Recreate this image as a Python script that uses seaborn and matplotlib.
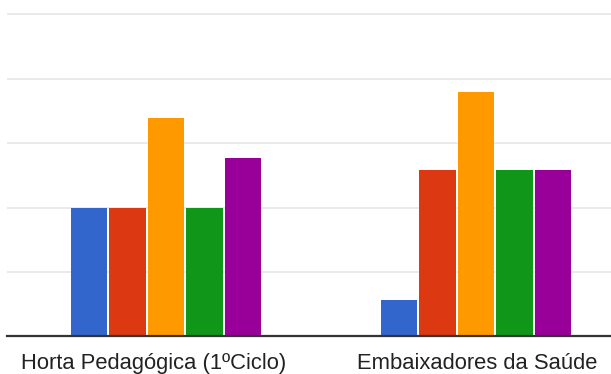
import matplotlib
matplotlib.use('Agg')
import matplotlib.pyplot as plt
import matplotlib.transforms as mtransforms
import seaborn as sns
import pandas as pd

categories = ['Horta Pedagógica (1ºCiclo)', 'Embaixadores da Saúde']
series = ['S1', 'S2', 'S3', 'S4', 'S5']
values = {
    'S1': [2.0, 0.56],
    'S2': [2.0, 2.59],
    'S3': [3.39, 3.79],
    'S4': [2.0, 2.59],
    'S5': [2.77, 2.59],
}
colors = ['#3366cc', '#dc3912', '#ff9900', '#109618', '#990099']

rows = []
for s in series:
    for c, v in zip(categories, values[s]):
        rows.append({'cat': c, 'serie': s, 'val': v})
df = pd.DataFrame(rows)

sns.set_style('white')
plt.rcParams['font.family'] = ['Liberation Sans', 'DejaVu Sans']

fig = plt.figure(figsize=(6.11, 3.74), dpi=100)
ax = fig.add_axes([7 / 611, 0.1008, 1 - 7 / 611, 1 - 0.1008])

sns.barplot(data=df, x='cat', y='val', hue='serie', palette=colors,
            width=0.62, gap=0.05, ax=ax, legend=False, edgecolor='none',
            saturation=1)

ax.set_xlim(-0.513, 1.435)
ax.set_ylim(0, 5.225)
ax.set_yticks([1, 2, 3, 4, 5])
ax.yaxis.grid(True, color='#e6e6e6', linewidth=1.2)
ax.set_axisbelow(True)
ax.tick_params(axis='y', left=False, labelleft=False)
ax.tick_params(axis='x', bottom=False, labelsize=15.8, colors='#222222', pad=8.2)
ax.set_xlabel('')
ax.set_ylabel('')
for sp in ['top', 'right', 'left']:
    ax.spines[sp].set_visible(False)
ax.spines['bottom'].set_color('#333333')
ax.spines['bottom'].set_linewidth(1.6)

# first label sits a little left of its group
shifts = [-12, 1]
for lab, dx in zip(ax.get_xticklabels(), shifts):
    off = mtransforms.ScaledTranslation(dx / 100, 0, fig.dpi_scale_trans)
    lab.set_transform(lab.get_transform() + off)

fig.savefig('out.png', dpi=100)
